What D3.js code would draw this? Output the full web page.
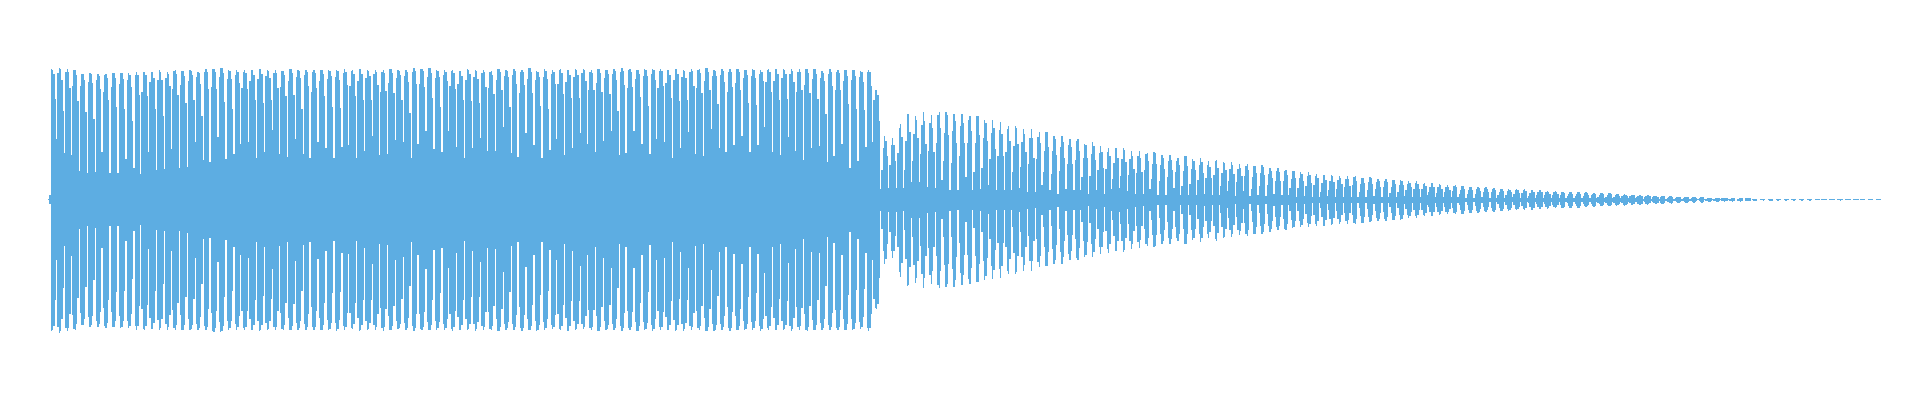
<!DOCTYPE html>
<html>
<head>
<meta charset="utf-8">
<script src="https://cdn.jsdelivr.net/npm/d3@7/dist/d3.min.js"></script>
<style>html,body{margin:0;padding:0;background:#fff}svg{display:block}</style>
</head>
<body>
<div id="chart"></div>
<script>
const leadUpper = [0.5, 4.5];
const leadLower = [0.5, 4.5];
const gapUpper = [100,
61,47,44.5,29,27,28,48,27,27,40.5,32,25.5,48,29.5,31,51,32,33,58,39.5,38,63,41,46,56,58,42,48,69.5,46,43,61,45.5,42,58,52,
41.8,52.5,54.5,41.8,48.8,63.5,44.5,45.5,59.5,57.5,41.8,55.5,68.5,50.5,47.5,68.5,52.5,41.8,51.5,61.5,48.5,48.5,72.8,46.5,42.5,66.5,54.5,41.8,49.5,60.5,44.5,51.5,66.5,55.5,
47.5,58.5,68.5,44.5,46.5,68.5,55.5,45.5,60.5,57.5,41.5,51.5,67.5,45.5,43.5,70.5,51.5,47.5,54.5,63.5,47.5,54.5,72.8,47.5,44.5,62.5,48.5,39.5,51.5,53.5,37.5,
43.5,55.5,32,39,53,58,
11,12,11.5,11.5,18,18,13,12,19.5,10,9.5,23,9.5,10.5,14.5,9.5,10,10,12,8,8,15,9.5,6,11,9.5,9.5,5.5,9.5,6,11,12,
8.8,6,6,11,4.5,5,11.5,4.5,4.5,5,6,4.5,4.5,8.5,3.5,9,3.5,5,3.5,6,4.5,5,3,3.5,3,2.5,3.5,2.5,2.5,2.5,3,2.5,3.5,3,
2.5,2.5,4,2.5,2.5,5,2.5,2.5,3,2.5,2,2,3,2,2,2,2.5,2,2,2,2,1.5,1.5,2,1.5,1.5,1.5,1.5,1.5,1.5,1.5,
1.5,1.5,1,1,1,1,1,1,1,0.5,0.5,0.5,0.5,0.5,
0,0,0,0,0,0,0,0,0,0,0,0,0,0,0,0,0,0,0,0];

const gapLower = [100,
60.5,46.5,56,29.5,26.5,28.5,48,26.5,26.5,41.5,31.5,25.5,49,30.5,31.5,51.5,31.5,33,58,39.5,38.5,62.5,40.5,47,55.5,58.5,42.5,47.5,69.5,46.5,42.5,61.5,45.5,42.5,59,51.5,
41.5,53,54.5,41.5,48.5,64.5,44.5,45.5,60.5,57,42.5,55.5,69.5,50.5,48.5,68.5,53.5,41.5,51.5,62.5,48.5,49.5,72.5,46.5,42.5,67.5,55.5,42.5,50.5,60.5,44.5,51.5,66.5,55.5,
47.5,58.5,68.5,44.5,47.5,68.5,55.5,45.5,60.5,58.5,42.5,52.5,68.5,46.5,44.5,70.5,52.5,47.5,54.5,64.5,47.5,54.5,73.5,47.5,44.5,63.5,49.5,39.5,52.5,53.5,37.5,
43.5,55.5,32.5,39,53,60,
11,12,12,11.5,18,18,13,12,19,11,10,22,10,11,14,10,10,10,12,9,8,15,10,7,11,10,10,6,9.5,7,11,12,
9,7,6,11,5,5,11,5,5,5,6,5,5,8.5,4,9,4,5,4,6,5,5,3.5,4,3.5,3,4,3,3,3,3.5,3,4,3.5,
3,3,4,3,3,5,3,3,3,3,2.5,2.5,3,2.5,2.5,2.5,2.5,2.5,2,2,2,2,2,2,2,2,2,2,2,2,2,
2,2,1.5,1.5,1.5,1.5,1,1,1,0.5,0.5,0.5,0.5,0.5,
0,0,0,0,0,0,0,0,0,0,0,0,0,0,0,0,0,0,0,0];

const peakUpper = [
130.5,132,131,130,126,127,125.5,126,127,127,126.5,128,128,128,129.5,127.5,130,129,129.5,128,131,131,132,129.5,129.5,129.5,129.5,131,130,129.5,129,130.5,129.5,129.5,129.5,130,129.5,
130,130.5,129.5,130.5,129.5,130,129.5,130.5,129.5,129.5,131.5,131,131.5,130,129.5,130,128.5,130.5,129.5,130,128.5,130.5,129.5,130.5,130,131.5,128.5,130.5,129.5,130.5,129.5,130.5,131,129.5,
130.5,130,130.5,131.5,130.5,129.5,131,131,131,129.5,130.5,129.5,131,130.5,131.5,129.5,130.5,130.5,130.5,129.5,131,129.5,131,130.5,130.5,130.5,130.5,131,130.5,128.5,130.5,
129.5,129.5,130,129,130,109.5,
63.5,62,76,85.5,83.5,87.5,84.5,87.5,87.5,85.5,85.5,84,83.5,80,79.5,77.5,73.5,73.5,71,71,67.5,67.5,63.5,63.5,61,60.5,56,57.5,54,51.5,51.5,
52,48.5,48.5,47,47.5,44.5,44.5,41.5,43.5,40.5,41.5,38.5,40,37.5,37.5,35.5,36,34,34.5,31.5,31.5,29.5,29,27.5,27.5,25.5,25,24.5,24,23.5,23.5,21.5,22.5,20.5,
20.5,19.5,19.5,18.5,18.5,16.5,16.5,15.5,14.5,14.5,13.5,12.5,12.5,12.5,11.5,10.5,10.5,10.5,10.5,9.5,9.5,8.5,8.5,7.5,7.5,7.5,7.5,6.5,6.5,6.5,5.5,
5.5,5,5,4.5,4,4,3.5,3,3,3,2.5,2,2,2,1.5,1.5,1.5,1,1,1,1,1,1,1,0.5,0.5,0.5,0.5,0.5,0.5,
0.5,0.5,0.5,0.5];

const peakLower = [
131.5,133,131.5,130,125.5,127,127,128,127,128,128.5,130,130,129.5,130,130,130,130.5,130.5,130.5,130.5,132,132,130,130,130,130.5,131.5,130.5,130,130,130.5,130,130,130,130,130,
131,130,129,131,130,130,131,130,129.5,130,131,130,130.5,130,130,131,130,130,131,130,130,131,130,130,131,130.5,131,130,129.5,130,131,130,129,130.5,
131,130,130,131,130,131,130.5,131,130,130,131,131,130,130,131,131.5,130,131,130,130,130,131,130,130,130.5,131,130,131,130.5,130,130.5,
130.5,130.5,130,129,131,109,
64,58,77,86,83,88,84,88,87,87,85,84,83,80.5,79,78,74.5,74.5,71,71,67,67,64,64,60.5,60.5,57,57,54.5,53,51.5,
52.5,49.5,48,46.5,47.5,44.5,44.5,41.5,44.5,40.5,42.5,38.5,41.5,38.5,37.5,35.5,36.5,34.5,34.5,32.5,30.5,30.5,28.5,27.5,27.5,26.5,26.5,25.5,24.5,24.5,24.5,23.5,22.5,21.5,
21.5,20.5,20.5,18.5,18.5,16.5,16.5,15.5,14.5,14.5,14.5,13.5,13.5,12.5,12.5,11.5,11.5,10.5,10.5,10.5,9.5,9.5,8.5,8.5,8.5,8.5,7.5,7.5,6.5,6.5,6,
6,5.5,5.5,5,4.5,4.5,4,3.5,3.5,3,3,2.5,2.5,2,2,2,1.5,1.5,1,1.5,1,1,1,1,1,0.5,0.5,0.5,1,0.5,
0.5,0.5,0.5,0.5];

const width = 1920, height = 400;
const lobeCount = peakUpper.length;
const x = d3.scaleLinear().domain([0, lobeCount]).range([48.6, 1882.4]);
const y = d3.scaleLinear().domain([-132, 132]).range([331.5, 67.5]);
const colW = 4 / 3, colHalf = colW / 2, period = x(1) - x(0);
// lobe outlines: fat blocks in the loud first section, spindles after the drop
const blockShape = d3.scaleLinear().domain([0,.14,.3,.5,.7,.86,1]).range([.5,.85,1,1,.93,.6,.3]);
const spindleShape = d3.scaleLinear().domain([0,.14,.31,.45,.62,.82,.95,1]).range([.1,.3,.72,1,1,.7,.4,.2]);
const dropLobe = 108;

function amp(j, gaps, peaks) {
  const t = x.invert(j * colW + colHalf);
  const n = Math.floor(t), u = t - n, near = Math.round(t);
  const gapReach = gaps[near] === 0 ? 1.2 : colHalf;
  if (Math.abs(t - near) * period <= gapReach) return gaps[near];
  const floor = u < .5 ? gaps[n] : gaps[n + 1];
  const shape = n < dropLobe ? blockShape : spindleShape;
  return floor + (peaks[n] - floor) * shape(u);
}
const firstCol = 38, lastCol = Math.floor(x(lobeCount) / colW);
const columns = [
  ...leadUpper.map((v, i) => ({ j: firstCol - leadUpper.length + i, up: v, lo: leadLower[i] })),
  ...d3.range(firstCol, lastCol).map(j => ({ j, up: amp(j, gapUpper, peakUpper), lo: amp(j, gapLower, peakLower) })),
];
columns.push({ j: lastCol, up: 0, lo: 0 });

const area = d3.area().curve(d3.curveStepAfter)
  .x(d => d.j * colW).y0(d => y(-d.lo)).y1(d => y(d.up));
const svg = d3.select("#chart").append("svg").attr("width", width).attr("height", height);
svg.append("path").datum(columns).attr("d", area).attr("fill", "#5DADE2").attr("shape-rendering", "crispEdges");
</script>
</body>
</html>
